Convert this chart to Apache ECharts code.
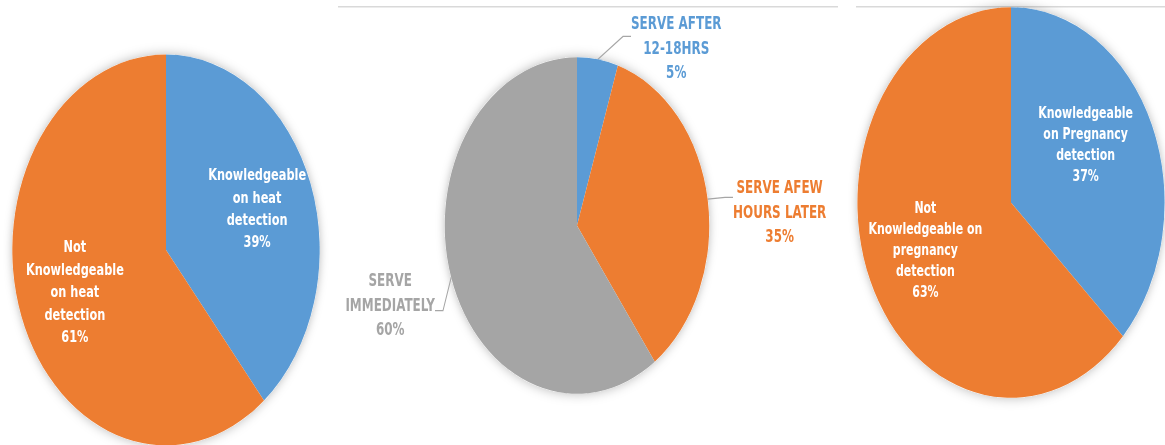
<!DOCTYPE html>
<html><head><meta charset="utf-8">
<script src="https://cdn.jsdelivr.net/npm/echarts@6/dist/echarts.min.js"></script>
<style>
html,body{margin:0;padding:0;overflow:hidden;background:#fff;width:1165px;height:445px}
#c{width:1165px;height:350px;transform:scaleY(1.2714286);transform-origin:0 0;}
</style></head><body><div id="c"></div>
<script>
// ---- data ----
const heatCategories = ['Knowledgeable\non heat\ndetection', 'Not\nKnowledgeable\non heat\ndetection'];
const heatValues = [39, 61];
const serveCategories = ['SERVE AFTER\n12-18HRS', 'SERVE AFEW\nHOURS LATER', 'SERVE\nIMMEDIATELY'];
const serveValues = [5, 35, 60];
const pregCategories = ['Knowledgeable\non Pregnancy\ndetection', 'Not\nKnowledgeable on\npregnancy\ndetection'];
const pregValues = [37, 63];

// ---- styles / layout ----
const palette = ['#5B9BD5', '#ED7D31', '#A5A5A5'];
const FONT = "'Liberation Sans Narrow', 'DejaVu Sans Condensed', 'Roboto', sans-serif";
const sum = a => a.reduce((s, v) => s + v, 0);
const items = (names, vals) => vals.map((v, i) => ({ value: v, name: names[i], itemStyle: { color: palette[i] } }));

const pies = [
  { names: heatCategories, vals: heatValues, center: [166, 196.6], r: 153.7, r0: 34, font: 12.6, lh: 17.6 },
  { names: serveCategories, vals: serveValues, center: [577, 177.4], r: 132.3 },
  { names: pregCategories, vals: pregValues, center: [1011, 159.3], r: 153.6, r0: 27, font: 12.2, lh: 16.5,
    labelShift: [{ dx: -11, dy: -9 }, {}] }
];

// label anchors for the middle pie (leader line meets the label here)
const serveLabelAnchors = [{ x: 631, y: 22.9 }, { x: 733, y: 147.1 }, { x: 435, y: 245.4 }];
// spacer lines so the leader line meets the right text line: [top gap, bottom gap]
const serveGaps = [[29.8, 0], [39.4, 0], [0, 11]];

const series = [];
pies.forEach((p, k) => {
  series.push({
    type: 'pie', silent: true, z: 1, center: p.center, radius: [0, p.r], animation: false,
    data: [{ value: sum(p.vals), name: '' }],
    itemStyle: { color: '#ffffff', shadowBlur: 9, shadowColor: 'rgba(0,0,0,0.28)' },
    label: { show: false }, labelLine: { show: false }, emphasis: { disabled: true }, tooltip: { show: false }
  });
  if (k === 1) {
    const rich = {};
    palette.forEach((c, i) => {
      rich['c' + i] = { color: c, align: 'center', fontSize: 13.3, fontWeight: 'bold', fontFamily: FONT, lineHeight: 19 };
      rich['t' + i] = { fontSize: 1, lineHeight: serveGaps[i][0] || 1 };
      rich['b' + i] = { fontSize: 1, lineHeight: serveGaps[i][1] || 1 };
    });
    series.push({
      type: 'pie', z: 2, center: p.center, radius: [0, p.r], animation: false, avoidLabelOverlap: false,
      startAngle: 90, clockwise: true,
      data: items(p.names, p.vals),
      itemStyle: { borderWidth: 0 },
      label: {
        show: true, position: 'outside', distanceToLabelLine: 0,
        formatter: q => {
          const i = q.dataIndex;
          let lines = q.name.split('\n').concat(q.percent + '%').map(s => '{c' + i + '|' + s + '}');
          if (serveGaps[i][0]) lines.unshift('{t' + i + '|\u00a0}');
          if (serveGaps[i][1]) lines.push('{b' + i + '|\u00a0}');
          return lines.join('\n');
        },
        rich: rich
      },
      labelLine: { show: true, length: 10, length2: 8, lineStyle: { color: '#A6A6A6', width: 1 } },
      labelLayout: q => serveLabelAnchors[q.dataIndex],
      emphasis: { disabled: true }
    });
  } else {
    series.push({
      type: 'pie', z: 2, center: p.center, radius: [0, p.r], animation: false,
      startAngle: 90, clockwise: true,
      data: items(p.names, p.vals), itemStyle: { borderWidth: 0 },
      label: { show: false }, labelLine: { show: false }, emphasis: { disabled: true }
    });
    series.push({
      type: 'pie', z: 3, silent: true, center: p.center, radius: [p.r0, p.r], animation: false,
      startAngle: 90, clockwise: true,
      data: p.vals.map((v, i) => ({ value: v, name: p.names[i] })),
      itemStyle: { color: 'rgba(0,0,0,0)', borderWidth: 0 },
      label: {
        show: true, position: 'inside', formatter: '{b}\n{d}%', color: '#ffffff',
        fontSize: p.font, fontWeight: 'bold', fontFamily: FONT, lineHeight: p.lh
      },
      labelLine: { show: false },
      labelLayout: p.labelShift ? (q => p.labelShift[q.dataIndex]) : undefined,
      emphasis: { disabled: true }
    });
  }
});

const chart = echarts.init(document.getElementById('c'), null, { renderer: 'svg' });
chart.setOption({
  animation: false,
  backgroundColor: '#ffffff',
  graphic: [
    { type: 'line', silent: true, shape: { x1: 338, y1: 5.3, x2: 838, y2: 5.3 }, style: { stroke: '#D9D9D9', lineWidth: 1.2 } },
    { type: 'line', silent: true, shape: { x1: 856, y1: 5.3, x2: 1165, y2: 5.3 }, style: { stroke: '#D9D9D9', lineWidth: 1.2 } }
  ],
  series: series
});
</script></body></html>
